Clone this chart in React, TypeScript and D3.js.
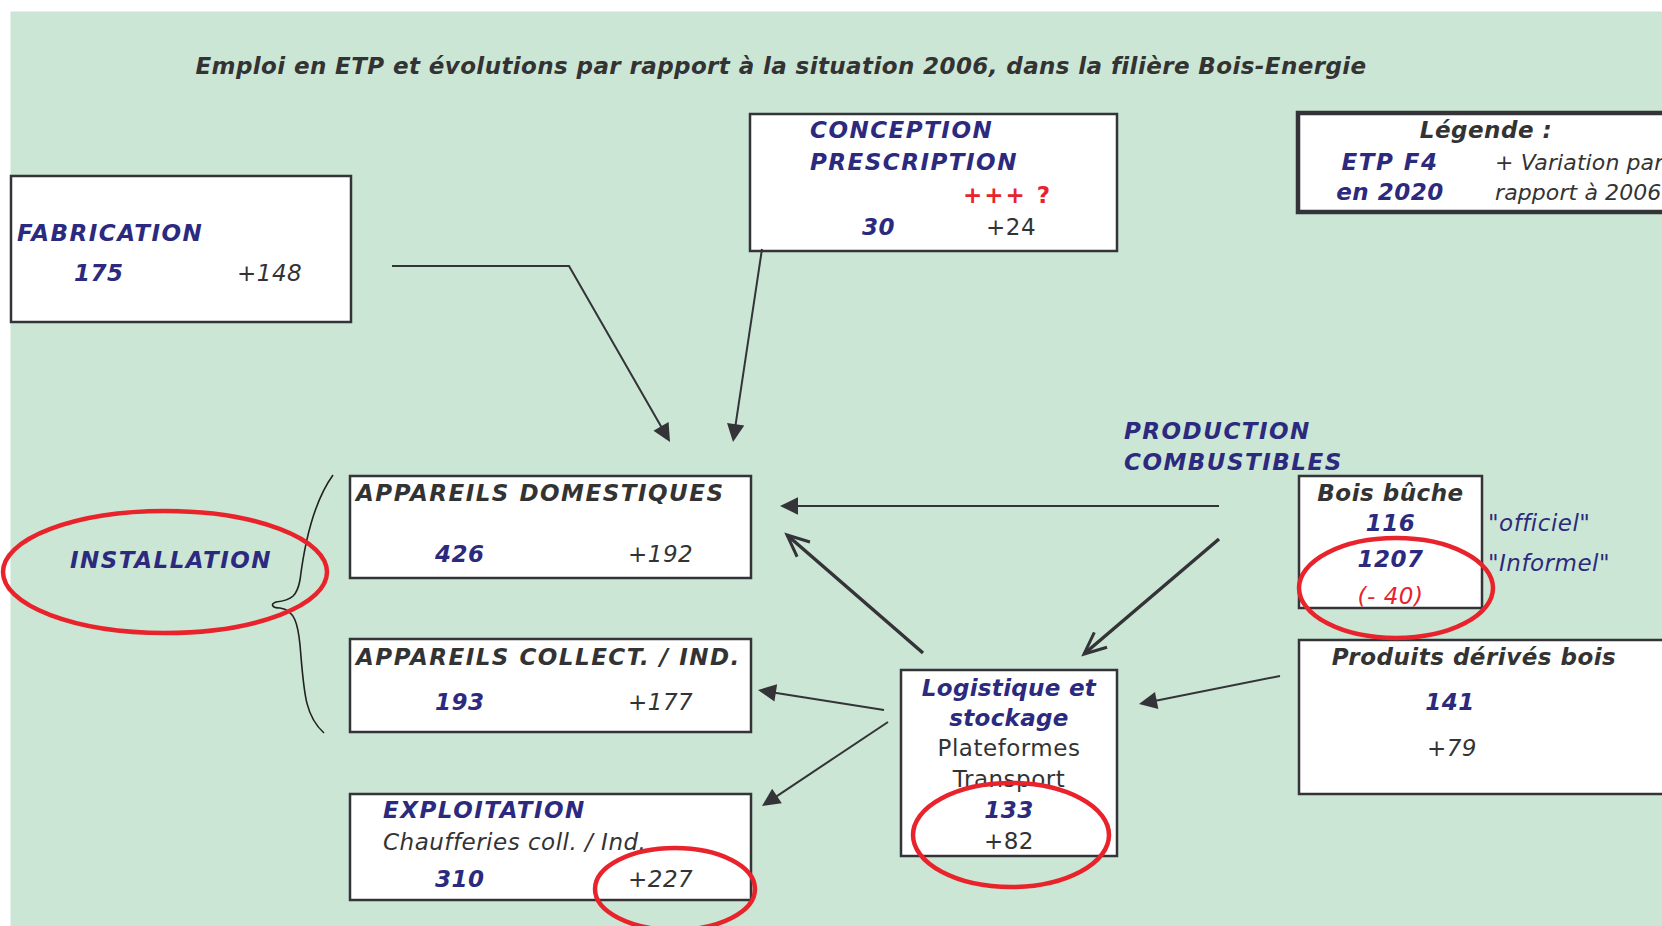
import React from "react";
import * as d3 from "d3";

// ETP F4 en 2020 et variation par rapport à 2006
const sectors = [
  "FABRICATION",
  "CONCEPTION PRESCRIPTION",
  "APPAREILS DOMESTIQUES",
  "APPAREILS COLLECT. / IND.",
  "EXPLOITATION",
  "Logistique et stockage",
  "Bois bûche",
  "Produits dérivés bois",
];
const etp2020 = [175, 30, 426, 193, 310, 133, 116, 141];
const variation = ["+148", "+24", "+192", "+177", "+227", "+82", "(- 40)", "+79"];
const boisBucheInformel = 1207;
const titleText =
  "Emploi en ETP et évolutions par rapport à la situation 2006, dans la filière Bois-Energie";

const W = 1662;
const H = 926;
const FONT = "'DejaVu Sans', Verdana, sans-serif";
const NAVY = "#2c2a7e";
const GREY = "#333333";
const RED = "#e8232b";
const LINE = "#333338";

// box rectangles
const boxes = {
  fab: { x: 11, y: 176, w: 340, h: 146 },
  conc: { x: 750, y: 114, w: 367, h: 137 },
  dom: { x: 350, y: 476, w: 401, h: 102 },
  coll: { x: 350, y: 639, w: 401, h: 93 },
  expl: { x: 350, y: 794, w: 401, h: 106 },
  logi: { x: 901, y: 670, w: 216, h: 186 },
  buche: { x: 1299, y: 476, w: 183, h: 132 },
  prod: { x: 1299, y: 640, w: 420, h: 154 },
};

// arrows: points, head type
const arrows = [
  { pts: [[392, 266], [569, 266], [670, 442]], open: false },
  { pts: [[762, 249], [733, 442]], open: false },
  { pts: [[1219, 506], [780, 506]], open: false },
  { pts: [[1219, 539], [1084, 654]], open: true },
  { pts: [[923, 653], [787, 535]], open: true },
  { pts: [[884, 710], [758, 690]], open: false },
  { pts: [[888, 722], [762, 806]], open: false },
  { pts: [[1280, 676], [1139, 704]], open: false },
];

const ellipses = [
  { cx: 165, cy: 572, rx: 162, ry: 61 },
  { cx: 675, cy: 889, rx: 80, ry: 41 },
  { cx: 1011, cy: 835, rx: 98, ry: 52 },
  { cx: 1396, cy: 588, rx: 97, ry: 50 },
];

const line = d3.line();

function Arrow({ pts, open }) {
  const n = pts.length;
  const [x1, y1] = pts[n - 2];
  const [x2, y2] = pts[n - 1];
  const a = Math.atan2(y2 - y1, x2 - x1);
  const len = open ? 24 : 20;
  const half = open ? 0.42 : 0.45;
  const p1 = [x2 - len * Math.cos(a - half), y2 - len * Math.sin(a - half)];
  const p2 = [x2 - len * Math.cos(a + half), y2 - len * Math.sin(a + half)];
  const base = open ? [x2, y2] : [x2 - 17 * Math.cos(a), y2 - 17 * Math.sin(a)];
  const shaft = [...pts.slice(0, n - 1), base];
  return (
    <g>
      <path d={line(shaft)} fill="none" stroke={LINE} strokeWidth={open ? 3.5 : 2} />
      {open ? (
        <path d={line([p1, [x2, y2], p2])} fill="none" stroke={LINE} strokeWidth={3} strokeLinejoin="miter" />
      ) : (
        <path d={line([p1, [x2, y2], p2]) + "Z"} fill={LINE} stroke="none" />
      )}
    </g>
  );
}

function Box({ b, thick }) {
  return (
    <rect x={b.x} y={b.y} width={b.w} height={b.h} fill="#ffffff" stroke={LINE} strokeWidth={thick ? 4.5 : 2.5} />
  );
}

function T({ x, y, children, c = NAVY, b = true, i = true, s = 23, a = "start", ls }) {
  const str = String(children);
  const caps = b && /[A-Z]/.test(str) && str === str.toUpperCase();
  const spacing = ls !== undefined ? ls : caps ? 1.5 : 0.5;
  return (
    <text x={x} y={y} fill={c} fontWeight={b ? "bold" : "normal"} fontStyle={i ? "italic" : "normal"} fontSize={s} textAnchor={a} letterSpacing={spacing}>
      {children}
    </text>
  );
}

function bracePath() {
  const p = d3.path();
  p.moveTo(333, 475);
  p.bezierCurveTo(315, 500, 305, 540, 300, 580);
  p.bezierCurveTo(297, 596, 292, 600, 276, 602);
  p.bezierCurveTo(270, 604, 272, 608, 280, 608);
  p.bezierCurveTo(295, 610, 298, 625, 300, 645);
  p.bezierCurveTo(304, 690, 304, 715, 324, 733);
  return p.toString();
}

export default function App() {
  const lc = boxes.logi.x + boxes.logi.w / 2;
  const bc = boxes.buche.x + boxes.buche.w / 2;
  return (
    <div>
      <style>{`body{margin:0}`}</style>
      <svg width={W} height={H} style={{ display: "block" }} fontFamily={FONT}>
        <rect x={0} y={0} width={W} height={H} fill="#ffffff" />
        <rect x={10.5} y={11.5} width={W} height={H} fill="#cce6d5" />

        <T x={781} y={74} c={GREY} s={23} ls={0.4} a="middle">{titleText}</T>

        {/* FABRICATION */}
        <Box b={boxes.fab} />
        <T x={17} y={241}>{sectors[0]}</T>
        <T x={74} y={281}>{etp2020[0]}</T>
        <T x={237} y={281} c={GREY} b={false}>{variation[0]}</T>

        {/* CONCEPTION PRESCRIPTION */}
        <Box b={boxes.conc} />
        <T x={810} y={138}>{sectors[1].split(" ")[0]}</T>
        <T x={810} y={170}>{sectors[1].split(" ")[1]}</T>
        <T x={963} y={203} c={RED} i={false} ls={2}>+++ ?</T>
        <T x={862} y={235}>{etp2020[1]}</T>
        <T x={986} y={235} c={GREY} b={false} i={false}>{variation[1]}</T>

        {/* Légende */}
        <rect x={1298} y={113} width={420} height={99} fill="#ffffff" stroke={LINE} strokeWidth={4.5} />
        <T x={1486} y={138} c={GREY} a="middle">Légende :</T>
        <T x={1390} y={170} a="middle">ETP F4</T>
        <T x={1390} y={200} a="middle">en 2020</T>
        <T x={1495} y={170} c={GREY} b={false} s={22} ls={0.1}>+ Variation par</T>
        <T x={1495} y={200} c={GREY} b={false} s={22} ls={0.1}>rapport à 2006</T>

        <T x={1124} y={439}>PRODUCTION</T>
        <T x={1124} y={470}>COMBUSTIBLES</T>

        {arrows.map((d, k) => (
          <Arrow key={k} pts={d.pts} open={d.open} />
        ))}

        {/* brace + INSTALLATION */}
        <path d={bracePath()} fill="none" stroke="#222" strokeWidth={1.6} />
        <T x={171} y={568} a="middle">INSTALLATION</T>

        {/* APPAREILS DOMESTIQUES */}
        <Box b={boxes.dom} />
        <T x={356} y={501} c={GREY}>{sectors[2]}</T>
        <T x={435} y={562}>{etp2020[2]}</T>
        <T x={628} y={562} c={GREY} b={false}>{variation[2]}</T>

        {/* APPAREILS COLLECT. / IND. */}
        <Box b={boxes.coll} />
        <T x={356} y={665} c={GREY}>{sectors[3]}</T>
        <T x={435} y={710}>{etp2020[3]}</T>
        <T x={628} y={710} c={GREY} b={false}>{variation[3]}</T>

        {/* EXPLOITATION */}
        <Box b={boxes.expl} />
        <T x={383} y={818}>{sectors[4]}</T>
        <T x={383} y={850} c={GREY} b={false}>Chaufferies coll. / Ind.</T>
        <T x={435} y={887}>{etp2020[4]}</T>
        <T x={628} y={887} c={GREY} b={false}>{variation[4]}</T>

        {/* Logistique et stockage */}
        <Box b={boxes.logi} />
        <T x={lc} y={696} a="middle" ls={0.3}>Logistique et</T>
        <T x={lc} y={726} a="middle" ls={0.3}>stockage</T>
        <T x={lc} y={756} c={GREY} b={false} i={false} a="middle">Plateformes</T>
        <T x={lc} y={787} c={GREY} b={false} i={false} a="middle">Transport</T>
        <T x={lc} y={818} a="middle">{etp2020[5]}</T>
        <T x={lc} y={849} c={GREY} b={false} i={false} a="middle">{variation[5]}</T>

        {/* Bois bûche */}
        <Box b={boxes.buche} />
        <T x={bc} y={501} c={GREY} a="middle">{sectors[6]}</T>
        <T x={bc} y={531} a="middle">{etp2020[6]}</T>
        <T x={bc} y={567} a="middle">{boisBucheInformel}</T>
        <T x={bc} y={604} c={RED} b={false} a="middle">{variation[6]}</T>
        <T x={1488} y={531} b={false}>"officiel"</T>
        <T x={1488} y={571} b={false}>"Informel"</T>

        {/* Produits dérivés bois */}
        <Box b={boxes.prod} />
        <T x={1474} y={665} c={GREY} a="middle">{sectors[7]}</T>
        <T x={1450} y={710} a="middle">{etp2020[7]}</T>
        <T x={1452} y={756} c={GREY} b={false} a="middle">{variation[7]}</T>

        {ellipses.map((e, k) => (
          <ellipse key={k} cx={e.cx} cy={e.cy} rx={e.rx} ry={e.ry} fill="none" stroke={RED} strokeWidth={4.5} />
        ))}
      </svg>
    </div>
  );
}
